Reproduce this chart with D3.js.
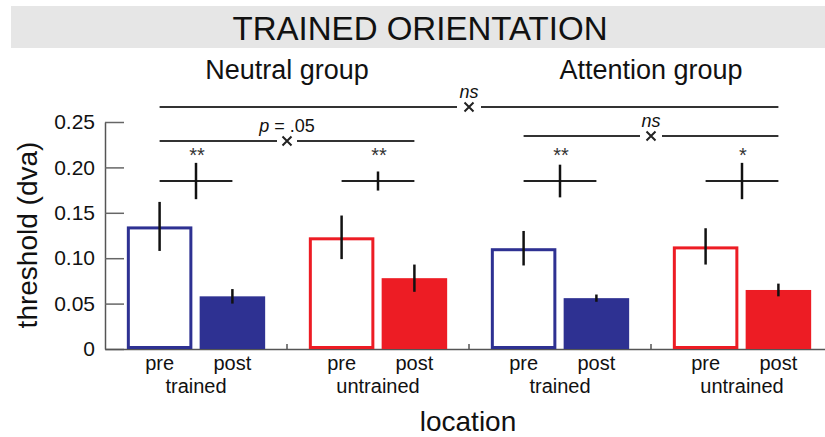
<!DOCTYPE html>
<html>
<head>
<meta charset="utf-8">
<script src="https://cdn.jsdelivr.net/npm/d3@7"></script>
<style>
  html, body { margin: 0; padding: 0; background: #fff; }
  svg { display: block; font-family: "Liberation Sans", Arial, Helvetica, sans-serif; }
</style>
</head>
<body>
<svg id="chart" width="825" height="437"></svg>
<script>
// Threshold (dva) before and after training, per group and location
const groupNames = ["Neutral group", "Attention group"];
const locations = ["trained", "untrained", "trained", "untrained"];
const sessions = ["pre", "post"];
const preThreshold = [0.135, 0.123, 0.111, 0.113];
const preError = [0.027, 0.024, 0.019, 0.020];
const postThreshold = [0.058, 0.078, 0.056, 0.065];
const postError = [0.008, 0.015, 0.004, 0.007];
// pre-post difference intervals and their significance
const diffError = [0.020, 0.0105, 0.018, 0.020];
const diffStars = ["**", "**", "**", "*"];
// between-location comparisons
const compLabels = ["p = .05", "ns", "ns"];
const yTickValues = [0, 0.05, 0.10, 0.15, 0.20, 0.25];
const yTickLabels = ["0", "0.05", "0.10", "0.15", "0.20", "0.25"];

const svg = d3.select("#chart");
const blue = "#2e3192", red = "#ed1c24";
const locColor = i => (i % 2 === 0 ? blue : red);

const y = d3.scaleLinear().domain([0, 0.25]).range([349, 122]);
const xGroup = d3.scaleBand().domain(d3.range(locations.length)).range([105, 833]).padding(0);
const xSess = d3.scaleBand().domain(sessions).range([0, xGroup.bandwidth()])
  .paddingInner(0.1).paddingOuter(0.3);
const barCenter = (g, s) => xGroup(g) + xSess(s) + xSess.bandwidth() / 2;

// title band
svg.append("rect").attr("x", 11).attr("y", 6).attr("width", 814).attr("height", 42).attr("fill", "#e6e6e6");
svg.append("text").attr("x", 420).attr("y", 40).attr("text-anchor", "middle")
  .attr("font-size", 34).attr("textLength", 375).attr("lengthAdjust", "spacingAndGlyphs")
  .attr("fill", "#111").text("TRAINED ORIENTATION");

// group headings
groupNames.forEach((name, i) => {
  const cx = xGroup(i * 2 + 1);
  svg.append("text").attr("x", cx).attr("y", 79).attr("text-anchor", "middle")
    .attr("font-size", 27).attr("fill", "#111").text(name);
});

// y axis
const yAxis = d3.axisLeft(y).tickValues(yTickValues)
  .tickFormat((d, i) => yTickLabels[i]).tickSizeInner(-19).tickSizeOuter(0).tickPadding(10);
const gy = svg.append("g").attr("transform", "translate(105,0)").call(yAxis);
gy.select(".domain").attr("stroke", "#555").attr("stroke-width", 1.5);
gy.selectAll(".tick line").attr("stroke", "#666").attr("stroke-width", 1.5);
gy.selectAll(".tick text").attr("font-size", 21).attr("fill", "#111")
  .attr("font-family", "'Liberation Sans', Arial, sans-serif");

// x axis baseline with ticks at group boundaries
const xAxis = d3.axisBottom(xGroup).tickSize(0).tickFormat("");
const gx = svg.append("g").attr("transform", `translate(0,${y(0)})`).call(xAxis);
gx.select(".domain").attr("stroke", "#555").attr("stroke-width", 1.5);
gx.selectAll(".tick").remove();
svg.append("g").selectAll("line").data(d3.range(1, locations.length)).join("line")
  .attr("x1", d => xGroup(d)).attr("x2", d => xGroup(d))
  .attr("y1", y(0)).attr("y2", y(0) - 5)
  .attr("stroke", "#555").attr("stroke-width", 1.5);

// bars
const bars = [];
locations.forEach((loc, g) => {
  bars.push({ g, s: "pre", v: preThreshold[g], e: preError[g] });
  bars.push({ g, s: "post", v: postThreshold[g], e: postError[g] });
});
const sw = 3;
svg.append("g").selectAll("rect").data(bars).join("rect")
  .attr("x", d => xGroup(d.g) + xSess(d.s) + (d.s === "pre" ? sw / 2 : 0))
  .attr("y", d => y(d.v) + (d.s === "pre" ? sw / 2 : 0))
  .attr("width", d => xSess.bandwidth() - (d.s === "pre" ? sw : 0))
  .attr("height", d => y(0) - y(d.v) - (d.s === "pre" ? sw : 0))
  .attr("fill", d => (d.s === "pre" ? "#fff" : locColor(d.g)))
  .attr("stroke", d => (d.s === "pre" ? locColor(d.g) : "none"))
  .attr("stroke-width", sw);

// error bars
svg.append("g").selectAll("line").data(bars).join("line")
  .attr("x1", d => barCenter(d.g, d.s)).attr("x2", d => barCenter(d.g, d.s))
  .attr("y1", d => y(d.v + d.e)).attr("y2", d => y(d.v - d.e))
  .attr("stroke", "#111").attr("stroke-width", 2.5);

// pre-post difference crosses
const diffLevel = 0.185;
const diff = svg.append("g");
locations.forEach((loc, g) => {
  const x0 = barCenter(g, "pre"), x1 = barCenter(g, "post"), cx = xGroup(g) + xGroup.bandwidth() / 2;
  diff.append("line").attr("x1", x0).attr("x2", x1).attr("y1", y(diffLevel)).attr("y2", y(diffLevel))
    .attr("stroke", "#222").attr("stroke-width", 2);
  diff.append("line").attr("x1", cx).attr("x2", cx)
    .attr("y1", y(diffLevel + diffError[g])).attr("y2", y(diffLevel - diffError[g]))
    .attr("stroke", "#111").attr("stroke-width", 2.5);
  diff.append("text").attr("x", cx + 1).attr("y", 162).attr("text-anchor", "middle")
    .attr("font-size", 20).attr("fill", "#333").text(diffStars[g]);
});

// comparison lines with a cross mark in the middle
const comps = [
  { a: 0, b: 1, level: 0.229, label: compLabels[0], gap: 10 },
  { a: 2, b: 3, level: 0.2345, label: compLabels[1], gap: 11 },
  { a: 0, b: 3, level: 0.2665, label: compLabels[2], gap: 12 }
];
const cg = svg.append("g");
comps.forEach(c => {
  const x0 = barCenter(c.a, "pre"), x1 = barCenter(c.b, "post"), mx = (x0 + x1) / 2, yy = y(c.level);
  cg.append("line").attr("x1", x0).attr("x2", mx - c.gap).attr("y1", yy).attr("y2", yy)
    .attr("stroke", "#333").attr("stroke-width", 2);
  cg.append("line").attr("x1", mx + c.gap).attr("x2", x1).attr("y1", yy).attr("y2", yy)
    .attr("stroke", "#333").attr("stroke-width", 2);
  const r = 4.5;
  cg.append("path").attr("d", `M${mx - r},${yy - r}L${mx + r},${yy + r}M${mx - r},${yy + r}L${mx + r},${yy - r}`)
    .attr("stroke", "#222").attr("stroke-width", 2).attr("fill", "none");
  const t = cg.append("text").attr("x", mx).attr("y", yy - 9).attr("text-anchor", "middle")
    .attr("font-size", 18).attr("fill", "#111");
  if (c.label.startsWith("p")) {
    t.append("tspan").attr("font-style", "italic").text("p");
    t.append("tspan").text(c.label.slice(1));
  } else {
    t.attr("font-style", "italic").text(c.label);
  }
});

// category labels
const lab = svg.append("g").attr("fill", "#111");
bars.forEach(d => {
  lab.append("text").attr("x", barCenter(d.g, d.s)).attr("y", 370).attr("text-anchor", "middle")
    .attr("font-size", 20).text(d.s);
});
locations.forEach((loc, g) => {
  lab.append("text").attr("x", xGroup(g) + xGroup.bandwidth() / 2).attr("y", 393).attr("text-anchor", "middle")
    .attr("font-size", 20).text(loc);
});

// axis titles
svg.append("text").attr("x", 468).attr("y", 431).attr("text-anchor", "middle")
  .attr("font-size", 28).attr("fill", "#111").text("location");
svg.append("text").attr("transform", "translate(37,235) rotate(-90)").attr("text-anchor", "middle")
  .attr("font-size", 28).attr("fill", "#111").text("threshold (dva)");
</script>
</body>
</html>
